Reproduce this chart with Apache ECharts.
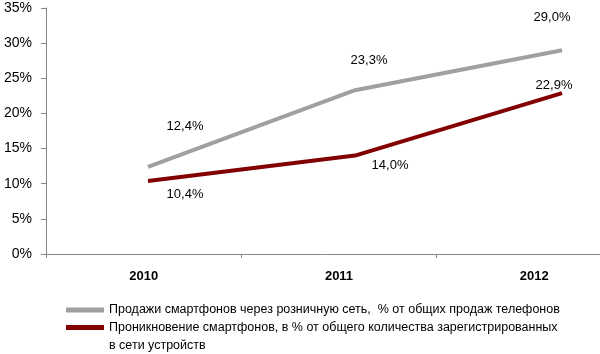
<!DOCTYPE html>
<html>
<head>
<meta charset="utf-8">
<script src="https://cdn.jsdelivr.net/npm/echarts@6/dist/echarts.min.js"></script>
<style>
  html, body { margin: 0; padding: 0; background: #fff; }
  #main { width: 600px; height: 354px; }
</style>
</head>
<body>
<div id="main"></div>
<script>
// данные графика
var years = ['2010', '2011', '2012'];
var retailName = 'Продажи смартфонов через розничную сеть,  % от общих продаж телефонов';
var penetrationName = 'Проникновение смартфонов, в % от общего количества зарегистрированных\nв сети устройств';
var retailValues = [12.4, 23.3, 29.0];
var penetrationValues = [10.4, 14.0, 22.9];
var yTicks = [0, 5, 10, 15, 20, 25, 30, 35];

var font = 'Liberation Sans';

// смещения подписей (как в исходнике)
var retailOffsets = [[37, -40], [14, -30], [-10, -33]];
var penetrationOffsets = [[37, 14], [35, 10], [-8, -8]];

// значки легенды: полоска + невидимые края, чтобы выровнять по первой строке
var iconMid = 'path://M0,18h38v5h-38zM0,0h38M0,41h38';
var iconTop = 'path://M0,9h38v5h-38zM0,0h38M0,41h38';

function buildData(values, offsets) {
    var arr = [];
    for (var i = 0; i < values.length; i++) {
        arr.push({
            value: [i, values[i]],
            label: { offset: offsets[i] }
        });
    }
    return arr;
}

function fmt(p) {
    return p.value[1].toFixed(1).replace('.', ',') + '%';
}

var myChart = echarts.init(document.getElementById('main'));

var option = {
    backgroundColor: '#fff',
    animation: false,
    grid: { left: 46, top: 8, bottom: 100, right: -32, outerBoundsMode: 'none' },
    xAxis: [{
        type: 'category',
        data: years,
        boundaryGap: true,
        axisLine: { lineStyle: { color: '#888', width: 1 } },
        axisTick: { show: true, length: 4, inside: false, lineStyle: { color: '#888' } },
        axisLabel: { color: '#000', fontFamily: font, fontSize: 13, fontWeight: 'bold', margin: 16 }
    }, {
        // скрытая ось для точек линий
        type: 'value',
        show: false,
        min: -0.4928,
        max: 2.338,
        position: 'bottom'
    }],
    yAxis: {
        type: 'value',
        min: yTicks[0],
        max: yTicks[yTicks.length - 1],
        interval: 5,
        splitLine: { show: false },
        axisLine: { show: true, onZero: false, lineStyle: { color: '#888', width: 1 } },
        axisTick: { show: true, length: 5, lineStyle: { color: '#888' } },
        axisLabel: {
            color: '#000', fontFamily: font, fontSize: 14, margin: 14,
            formatter: function (v) { return v + '%'; }
        }
    },
    legend: {
        orient: 'vertical',
        left: 66,
        top: 289.5,
        height: 120,
        padding: 0,
        itemGap: -14.5,
        itemWidth: 38,
        itemHeight: 41,
        itemStyle: { borderWidth: 0 },
        textStyle: { color: '#000', fontFamily: font, fontSize: 12.5, lineHeight: 18 },
        data: [
            { name: retailName, icon: iconMid },
            { name: penetrationName, icon: iconTop }
        ]
    },
    series: [{
        name: retailName,
        type: 'line',
        xAxisIndex: 1,
        data: buildData(retailValues, retailOffsets),
        symbol: 'circle',
        symbolSize: 0,
        color: '#A0A0A0',
        lineStyle: { width: 4, color: '#A0A0A0' },
        label: {
            show: true, position: 'inside', color: '#000',
            fontFamily: font, fontSize: 13, formatter: fmt
        }
    }, {
        name: penetrationName,
        type: 'line',
        xAxisIndex: 1,
        data: buildData(penetrationValues, penetrationOffsets),
        symbol: 'circle',
        symbolSize: 0,
        color: '#820000',
        lineStyle: { width: 4, color: '#820000' },
        label: {
            show: true, position: 'inside', color: '#000',
            fontFamily: font, fontSize: 13, formatter: fmt
        }
    }]
};

myChart.setOption(option);
</script>
</body>
</html>
